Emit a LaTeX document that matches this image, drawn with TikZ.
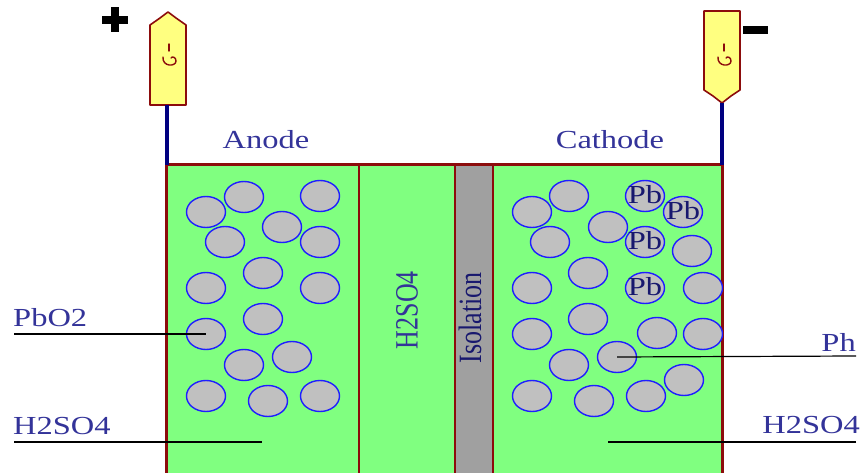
\documentclass[tikz,border=0pt]{standalone}
\usepackage{fontspec}
\setmainfont{Liberation Serif}
\usetikzlibrary{shapes.geometric}

\definecolor{cellgreen}{RGB}{128,255,128}
\definecolor{rimred}{RGB}{140,12,12}
\definecolor{wirenavy}{RGB}{0,0,128}
\definecolor{labelblue}{RGB}{51,51,153}
\definecolor{pbblue}{RGB}{24,24,110}
\definecolor{grainfill}{RGB}{192,192,192}
\definecolor{grainrim}{RGB}{30,30,255}
\definecolor{tabyellow}{RGB}{255,255,128}
\definecolor{sepgrey}{RGB}{160,160,160}

% wide serif lettering used for every label
\newcommand\widetext[1]{\scalebox{1.25}[1]{#1}}
\newcommand\uprighttext[1]{\rotatebox{90}{\scalebox{1}[1.25]{#1}}}

\tikzset{
  grain/.style={ellipse, draw=grainrim, fill=grainfill, line width=1.4pt,
                minimum width=39pt, minimum height=31pt, inner sep=0pt},
  pbtext/.style={inner sep=0pt, text=pbblue, font=\fontsize{26}{28}\selectfont},
  caption/.style={inner sep=0pt, text=labelblue, font=\fontsize{26}{28}\selectfont},
  leader/.style={black, line width=1.2pt},
  rim/.style={rimred, line width=2.2pt},
  wire/.style={wirenavy, line width=4pt},
  tab/.style={fill=tabyellow, draw=rimred, line width=1.6pt, line join=round},
  solder/.style={rimred, line width=1.4pt, line cap=round},
}

\begin{document}
\begin{tikzpicture}[x=1pt,y=-1pt]
\useasboundingbox (0,0) rectangle (862,473);

% ---- cell body ----
\fill[cellgreen] (166,165) rectangle (722,473);
\fill[sepgrey] (455,165) rectangle (493,473);
\draw[rim] (359,165) -- (359,473);
\draw[rim, line width=1.6pt] (455,165) -- (455,473);
\draw[rim, line width=1.6pt] (493,165) -- (493,473);
\draw[rim, line width=3pt] (166,473) -- (166,165) -- (722,165) -- (722,473);

% ---- terminals ----
\draw[tab] (150,105) -- (150,25) -- (160,18) -- (168,12) -- (176,18) -- (186,25)
  -- (186,105) -- cycle;
\draw[tab] (704,11) -- (740,11) -- (740,90) -- (731,96) -- (722,103) -- (713,96)
  -- (704,90) -- cycle;
\coordinate (anodetab) at (167,105);
\coordinate (cathodetab) at (722,103);
\coordinate (anodetop) at (167,165);
\coordinate (cathodetop) at (722,165);
\draw[wire] (anodetab) -- (anodetop);
\draw[wire] (cathodetab) -- (cathodetop);

% solder marks on the tabs
\foreach \cx in {169,724}{
  \draw[solder] (\cx,44) -- (\cx,51);
  \draw[solder] (\cx-6,57) .. controls (\cx-7,67) and (\cx+7,67) .. (\cx+7,61)
    .. controls (\cx+7,57) and (\cx+3,56) .. (\cx+2,58);
}

% polarity signs
\fill[black] (102,16) rectangle (128,24);
\fill[black] (111,7) rectangle (119,32);
\fill[black] (743,26) rectangle (768,34);

% ---- electrode names ----
\node[caption, anchor=base] (anode) at (266,149) {\widetext{Anode}};
\node[caption, anchor=base] (cathode) at (610,149) {\widetext{Cathode}};

% ---- PbO2 grains ----
\node[grain] (a1) at (206,212) {};
\node[grain] (a2) at (244,197) {};
\node[grain] (a3) at (320,196) {};
\node[grain] (a4) at (282,227) {};
\node[grain] (a5) at (225,242) {};
\node[grain] (a6) at (320,242) {};
\node[grain] (a7) at (263,273) {};
\node[grain] (a8) at (206,288) {};
\node[grain] (a9) at (320,288) {};
\node[grain] (a10) at (263,319) {};
\node[grain] (a11) at (206,334) {};
\node[grain] (a12) at (244,365) {};
\node[grain] (a13) at (292,357) {};
\node[grain] (a14) at (206,396) {};
\node[grain] (a15) at (268,401) {};
\node[grain] (a16) at (320,396) {};

% ---- Pb grains ----
\node[grain] (c1) at (532,212) {};
\node[grain] (c2) at (569,196) {};
\node[grain] (c3) at (608,227) {};
\node[grain] (c4) at (645,196) {};
\node[grain] (c5) at (683,212) {};
\node[grain] (c6) at (550,242) {};
\node[grain] (c7) at (645,242) {};
\node[grain] (c8) at (692,251) {};
\node[grain] (c9) at (588,273) {};
\node[grain] (c10) at (532,288) {};
\node[grain] (c11) at (645,288) {};
\node[grain] (c12) at (703,288) {};
\node[grain] (c13) at (588,319) {};
\node[grain] (c14) at (532,334) {};
\node[grain] (c15) at (657,333) {};
\node[grain] (c16) at (703,334) {};
\node[grain] (c17) at (569,365) {};
\node[grain] (c18) at (617,357) {};
\node[grain] (c19) at (532,396) {};
\node[grain] (c20) at (594,401) {};
\node[grain] (c21) at (646,396) {};
\node[grain] (c22) at (684,380) {};
\foreach \g in {c4,c5,c7,c11}{
  \node[pbtext] at ([yshift=1pt]\g) {\widetext{Pb}};
}

% ---- electrolyte and separator ----
\node[caption] (acid) at (407,310) {\uprighttext{H2SO4}};
\node[caption, text=pbblue] (sep) at (470,318) {\uprighttext{Isolation}};

% ---- leader labels ----
\coordinate (pbo2end) at (14,334);
\coordinate (lacidend) at (14,442);
\coordinate (lacidtip) at (262,442);
\coordinate (pbend) at (856,356);
\coordinate (racidend) at (856,442);
\coordinate (racidtip) at (608,442);

\node[caption, anchor=base west] (pbo2) at (13,326) {\widetext{PbO2}};
\node[caption, anchor=base west] (lacid) at (13,434) {\widetext{H2SO4}};
\node[caption, anchor=base east] (pb) at (856,351) {\widetext{Ph}};
\node[caption, anchor=base east] (racid) at (860,433) {\widetext{H2SO4}};

\draw[leader] (pbo2end) -- (a11.center);
\draw[leader] (lacidend) -- (lacidtip);
\draw[leader] (pbend) -- (c18.center);
\draw[leader] (racidend) -- (racidtip);
\end{tikzpicture}
\end{document}
